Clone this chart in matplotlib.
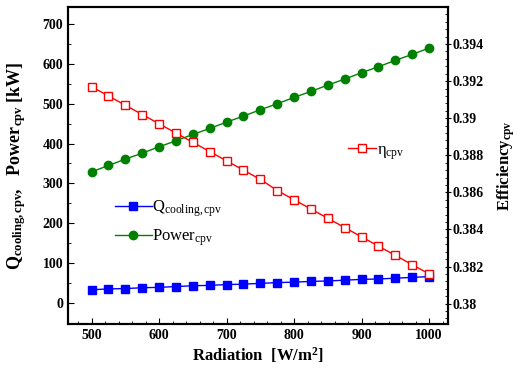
import matplotlib
matplotlib.use("Agg")
import matplotlib.pyplot as plt
from matplotlib.ticker import MultipleLocator

plt.rcParams['font.family'] = 'Liberation Serif'
plt.rcParams['mathtext.fontset'] = 'custom'
plt.rcParams['mathtext.rm'] = 'Liberation Serif'
plt.rcParams['mathtext.it'] = 'Liberation Serif:italic'
plt.rcParams['mathtext.bf'] = 'Liberation Serif:bold'

# Radiation [W/m2]
radiation = [500, 525, 550, 575, 600, 625, 650, 675, 700, 725, 750,
             775, 800, 825, 850, 875, 900, 925, 950, 975, 1000]
# Q cooling [kW]
q_cooling = [33, 35, 36, 38, 39, 41, 43, 44, 46, 47, 49,
             51, 52, 54, 55, 57, 59, 60, 62, 64, 66]
# Power [kW]
power = [329, 345, 361, 376, 392, 407, 423, 438, 454, 469, 485,
         500, 516, 531, 547, 562, 578, 593, 609, 624, 640]
# efficiency
eta = [0.3917, 0.3912, 0.3907, 0.3902, 0.3897, 0.3892, 0.3887, 0.3882, 0.3877, 0.3872, 0.3867,
       0.3861, 0.3856, 0.3851, 0.3846, 0.3841, 0.3836, 0.3831, 0.3826, 0.3821, 0.3816]

fig = plt.figure(figsize=(5.17, 3.68), dpi=100)
ax = fig.add_axes([0.1315, 0.1196, 0.735, 0.8614])
ax2 = ax.twinx()

l1, = ax.plot(radiation, q_cooling, color='#0000ff', marker='s', markersize=5.5,
              linewidth=1, label=r'Q$_{\mathrm{cooling,cpv}}$')
l2, = ax.plot(radiation, power, color='#008000', marker='o', markersize=6,
              linewidth=1, label=r'Power$_{\mathrm{cpv}}$')
l3, = ax2.plot(radiation, eta, color='#ff0000', marker='s', markersize=5.5,
               markerfacecolor='white', markeredgecolor='#ff0000',
               linewidth=1, label=r'η$_{\mathrm{cpv}}$')

ax.set_xlim(465, 1028)
ax.set_ylim(-53, 743)
ax2.set_ylim(0.3789, 0.396)

ax.xaxis.set_major_locator(MultipleLocator(100))
ax.xaxis.set_minor_locator(MultipleLocator(20))
ax.yaxis.set_major_locator(MultipleLocator(100))
ax.yaxis.set_minor_locator(MultipleLocator(50))
ax2.yaxis.set_minor_locator(MultipleLocator(0.0004))
ax2.set_yticks([0.38, 0.382, 0.384, 0.386, 0.388, 0.39, 0.392, 0.394])
ax2.set_yticklabels(['0.38', '0.382', '0.384', '0.386', '0.388', '0.39', '0.392', '0.394'])

ax.tick_params(axis='x', which='both', direction='in', top=False, labelsize=10)
ax.tick_params(axis='x', which='major', length=4)
ax.tick_params(axis='x', which='minor', length=2.5)
ax.tick_params(axis='y', which='both', direction='in', right=False, labelsize=10)
ax.tick_params(axis='y', which='major', length=4)
ax.tick_params(axis='y', which='minor', length=2.5)
ax2.tick_params(axis='y', which='major', direction='inout', length=5, labelsize=10, pad=1)
ax2.tick_params(axis='y', which='minor', direction='in', length=2.5)

for a in (ax, ax2):
    for s in a.spines.values():
        s.set_linewidth(1.5)
for lab in ax.get_xticklabels() + ax.get_yticklabels() + ax2.get_yticklabels():
    lab.set_fontweight('bold')

ax.set_xlabel(r'Radiation  [W/m$^{\mathbf{2}}$]', fontsize=12, fontweight='bold', labelpad=2)
ax.set_ylabel(r'Q$_{\mathbf{cooling,cpv}}$,   Power$_{\mathbf{cpv}}$ [kW]',
              fontsize=13, fontweight='bold', labelpad=10)
ax2.set_ylabel(r'Efficiency$_{\mathbf{cpv}}$', fontsize=12, fontweight='bold', labelpad=8)

fig.legend(handles=[l1, l2], loc='center left', bbox_to_anchor=(0.2224, 0.3927),
           frameon=False, fontsize=12, handlelength=2.2, handletextpad=0.05,
           borderpad=0, borderaxespad=0, labelspacing=0.5)
fig.legend(handles=[l3], loc='center left', bbox_to_anchor=(0.673, 0.587),
           frameon=False, fontsize=12, handlelength=1.7, handletextpad=0.05,
           borderpad=0, borderaxespad=0)

fig.savefig('out.png', dpi=100)
